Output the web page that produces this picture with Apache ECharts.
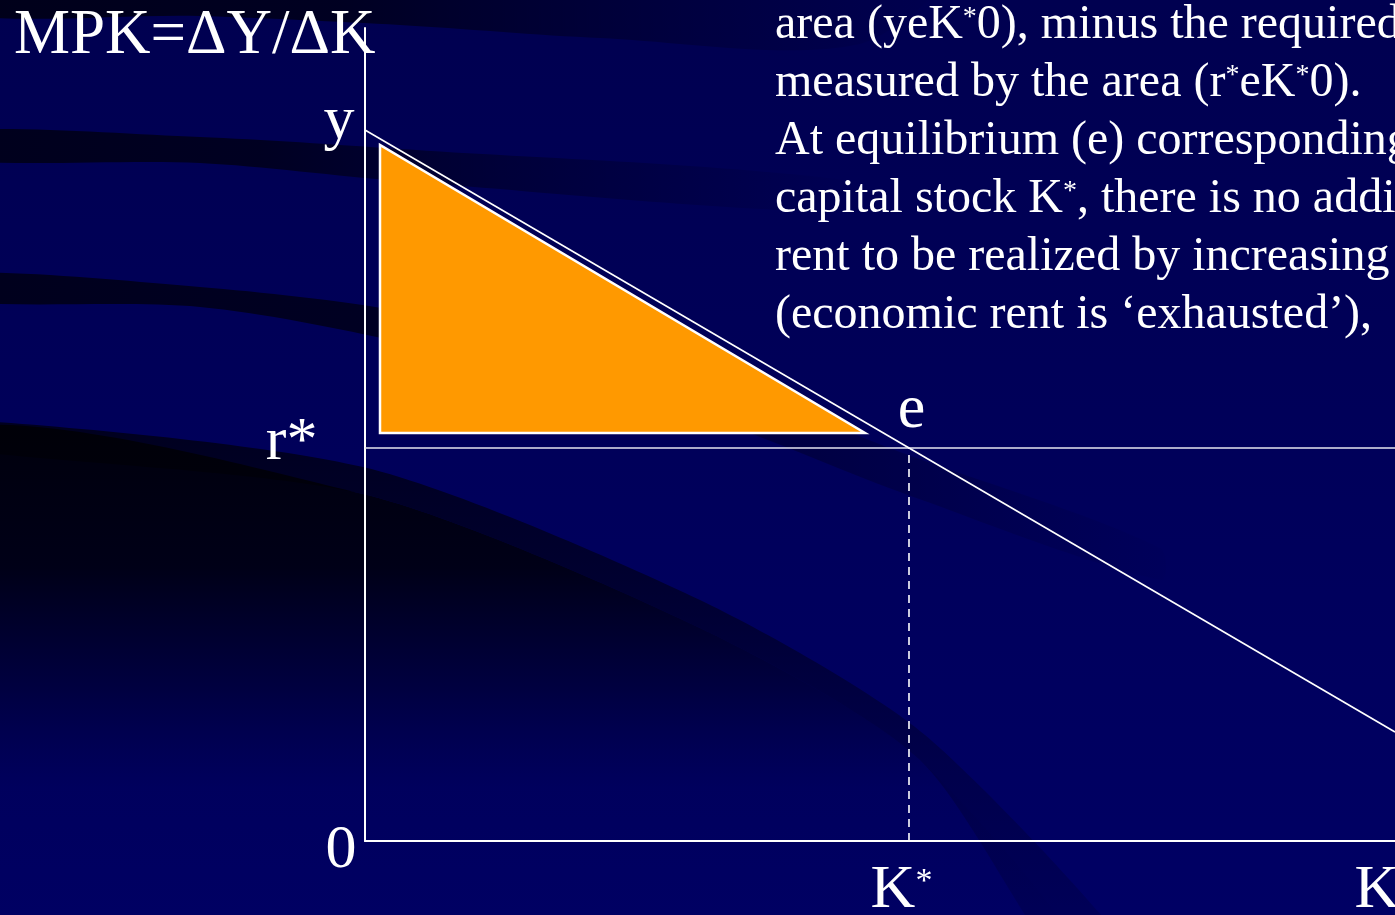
<!DOCTYPE html>
<html>
<head>
<meta charset="utf-8">
<title>MPK and economic rent</title>
<script src="https://cdn.jsdelivr.net/npm/echarts@6/dist/echarts.min.js"></script>
<style>
  html, body { margin: 0; padding: 0; background: #00005a; }
  #chart { width: 1395px; height: 915px; }
</style>
</head>
<body>
<div id="chart"></div>
<script>
// Capital stock (K) and marginal product of capital (MPK) ranges
const kRange = [0, 10.3];
const mpkRange = [0, 8.13];

// Downward-sloping MPK schedule from the intercept y
const mpkCurve = [[0, 7.11], [10.3, 1.09]];
// Required rate of return r*
const requiredReturn = [[0, 3.93], [10.3, 3.93]];
// Drop line from equilibrium e to K*
const kStarDrop = [[5.44, 0], [5.44, 3.93]];
// Economic rent triangle (shaded)
const rentArea = [[0.15, 6.96], [0.15, 4.08], [5.0, 4.08]];

// Point labels and where they sit
const pointLabels = ['y', 'r*', 'e', '0', 'K{s|*}', 'K'];
const pointCoords = [[0, 7.11], [0, 3.93], [5.44, 3.93], [0, 0], [5.44, 0], [10.3, 0]];

const titleText = 'MPK=ΔY/ΔK';
const noteLines = [
  'area (yeK{s|*}0), minus the required',
  'measured by the area (r{s|*}eK{s|*}0).',
  'At equilibrium (e) corresponding',
  'capital stock K{s|*}, there is no additional',
  'rent to be realized by increasing',
  '(economic rent is \u2018exhausted\u2019),'
];

const SERIF = '"Liberation Serif", "Times New Roman", serif';

// label placement relative to each anchor point
const labelPlacement = [
  { align: 'right', offset: [-10, -8] },
  { align: 'right', offset: [-47, -5] },
  { align: 'center', offset: [3, -37] },
  { align: 'right', offset: [-8, 10] },
  { align: 'center', offset: [-7, 50] },
  { align: 'left', offset: [-40, 50] }
];

const labelData = pointCoords.map((c, i) => ({
  value: c,
  name: pointLabels[i],
  label: {
    show: true,
    position: [0, 0],
    align: labelPlacement[i].align,
    verticalAlign: 'middle',
    offset: labelPlacement[i].offset,
    formatter: pointLabels[i]
  }
}));

// horizontal fade used by the thin backdrop bands
function bandFade(endAlpha) {
  return { type: 'linear', x: 0, y: 0, x2: 1, y2: 0, colorStops: [
    { offset: 0, color: 'rgba(0,0,25,0.95)' },
    { offset: 0.35, color: 'rgba(0,0,25,0.85)' },
    { offset: 1, color: 'rgba(0,0,40,' + endAlpha + ')' }] };
}

// vertical fade for the large shadow in the lower left (pixel space)
function shadowFade(stops) {
  return { type: 'linear', x: 0, y: 418, x2: 0, y2: 915, global: true, colorStops: stops };
}

const chart = echarts.init(document.getElementById('chart'), null, { renderer: 'canvas' });

const option = {
  backgroundColor: {
    type: 'linear', x: 0, y: 0, x2: 0, y2: 1,
    colorStops: [
      { offset: 0, color: '#000050' },
      { offset: 1, color: '#000064' }
    ]
  },
  animation: false,
  graphic: [
    // dark sweeping bands of the backdrop
    {
      type: 'polygon', z: 0, silent: true,
      shape: { points: [[-60, -40], [950, -40], [860, 44], [600, 38], [400, 25], [200, 16], [-60, 12]], smooth: 0.3 },
      style: { fill: { type: 'linear', x: 0, y: 0, x2: 1, y2: 0, colorStops: [
        { offset: 0, color: 'rgba(0,0,22,0.95)' },
        { offset: 0.4, color: 'rgba(0,0,22,0.8)' },
        { offset: 1, color: 'rgba(0,0,40,0)' }] } }
    },
    {
      type: 'polygon', z: 0, silent: true,
      shape: { points: [[-60, 131], [200, 137], [400, 149], [860, 182], [860, 212], [400, 181], [200, 163], [-60, 159]], smooth: 0.3 },
      style: { fill: bandFade(0) }
    },
    {
      type: 'polygon', z: 0, silent: true,
      shape: { points: [[-60, 273], [200, 287], [400, 311], [700, 376], [900, 452], [1160, 548], [1160, 580], [900, 492], [700, 416], [400, 342], [200, 307], [-60, 300]], smooth: 0.3 },
      style: { fill: bandFade(0.03) }
    },
    // lighter rim of the large shadow
    {
      type: 'polygon', z: 0, silent: true,
      shape: { points: [[-80, 417], [363, 467], [700, 600], [925, 735], [1160, 990], [1080, 990], [920, 760], [700, 628], [363, 494], [-80, 444]], smooth: 0.25 },
      style: { fill: shadowFade([
        { offset: 0, color: 'rgba(0,0,20,0.85)' },
        { offset: 0.35, color: 'rgba(0,0,20,0.6)' },
        { offset: 0.7, color: 'rgba(0,0,25,0.3)' },
        { offset: 1, color: 'rgba(0,0,30,0.18)' }]) }
    },
    // dark core of the large shadow
    {
      type: 'polygon', z: 0, silent: true,
      shape: { points: [[-80, 444], [363, 494], [700, 628], [920, 760], [1080, 990], [-80, 990]], smooth: 0.25 },
      style: { fill: shadowFade([
        { offset: 0, color: 'rgba(0,0,6,0.92)' },
        { offset: 0.3, color: 'rgba(0,0,8,0.82)' },
        { offset: 0.55, color: 'rgba(0,0,20,0.4)' },
        { offset: 0.75, color: 'rgba(0,0,50,0.08)' },
        { offset: 1, color: 'rgba(0,0,60,0.03)' }]) }
    },
    // heading
    {
      type: 'text', z: 10, left: 14, top: 5,
      style: { text: titleText, font: '63px ' + SERIF, fill: '#ffffff' }
    },
    // explanatory note
    {
      type: 'text', z: 10, left: 775, top: -4,
      style: {
        text: noteLines.join('\n'),
        font: '48px ' + SERIF,
        fill: '#ffffff',
        lineHeight: 58,
        rich: {
          s: { fontSize: 28, fontFamily: SERIF, fill: '#ffffff', verticalAlign: 'top', padding: [8, 0, 0, 0] }
        }
      }
    }
  ],
  grid: { left: 365, right: 0, top: 28, bottom: 74, containLabel: false },
  xAxis: {
    type: 'value', min: kRange[0], max: kRange[1],
    axisLine: { show: true, lineStyle: { color: '#ffffff', width: 2 } },
    axisTick: { show: false }, axisLabel: { show: false }, splitLine: { show: false }
  },
  yAxis: {
    type: 'value', min: mpkRange[0], max: mpkRange[1],
    axisLine: { show: true, lineStyle: { color: '#ffffff', width: 2 } },
    axisTick: { show: false }, axisLabel: { show: false }, splitLine: { show: false }
  },
  series: [
    {
      name: 'rent', type: 'custom', z: 3, clip: false,
      data: rentArea,
      renderItem: function (params, api) {
        if (params.dataIndex !== 0) return null;
        return {
          type: 'polygon',
          shape: { points: rentArea.map(p => api.coord(p)) },
          style: { fill: '#ff9900', stroke: '#ffffff', lineWidth: 2.5, lineJoin: 'miter' }
        };
      }
    },
    {
      name: 'r*', type: 'line', z: 4, data: requiredReturn, symbol: 'none',
      lineStyle: { color: '#e6e6f0', width: 1.6 }
    },
    {
      name: 'MPK', type: 'line', z: 5, data: mpkCurve, symbol: 'none',
      lineStyle: { color: '#ffffff', width: 1.6 }
    },
    {
      name: 'K*', type: 'line', z: 4, data: kStarDrop, symbol: 'none',
      lineStyle: { color: '#ffffff', width: 1.6, type: [8, 6] }
    },
    {
      name: 'labels', type: 'scatter', z: 6, symbolSize: 1,
      itemStyle: { color: 'rgba(0,0,0,0)', opacity: 1 },
      data: labelData,
      label: {
        color: '#ffffff',
        opacity: 1,
        fontFamily: SERIF,
        fontSize: 62,
        lineHeight: 62,
        rich: {
          s: { fontSize: 34, fontFamily: SERIF, color: '#ffffff', verticalAlign: 'top', padding: [6, 0, 0, 0] }
        }
      },
      emphasis: { disabled: true },
      silent: true
    }
  ]
};

chart.setOption(option);
</script>
</body>
</html>
